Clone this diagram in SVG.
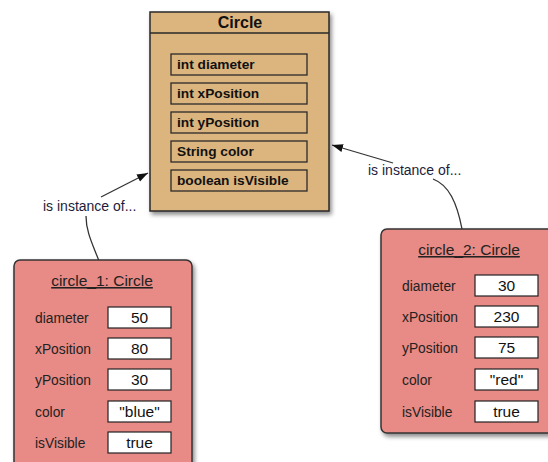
<svg xmlns="http://www.w3.org/2000/svg" width="548" height="462" viewBox="0 0 548 462">
<style>
.cls{fill:#dcb57e;stroke:#2a2a2a;stroke-width:1.5}
.fld{fill:#dcb57e;stroke:#2a2a2a;stroke-width:1.3}
.obj{fill:#e88a85;stroke:#333;stroke-width:1.5}
.val{fill:#fff;stroke:#222;stroke-width:1.2}
.ft{font-family:"Liberation Sans",Arial,sans-serif;font-size:13.7px;font-weight:bold;fill:#111}
.hd{font-family:"Liberation Sans",Arial,sans-serif;font-size:16px;font-weight:bold;fill:#111;text-anchor:middle}
.ttl{font-family:"Liberation Sans",Arial,sans-serif;font-size:15.5px;fill:#222;text-anchor:middle;text-decoration:underline}
.lb{font-family:"Liberation Sans",Arial,sans-serif;font-size:13.8px;fill:#222}
.vt{font-family:"Liberation Sans",Arial,sans-serif;font-size:15.5px;fill:#111;text-anchor:middle}
.cl{font-family:"Liberation Sans",Arial,sans-serif;font-size:14px;fill:#1c1c3a}
.con{fill:none;stroke:#333;stroke-width:1.3}
</style>
<defs>
<filter id="sh" x="-10%" y="-10%" width="130%" height="130%">
<feDropShadow dx="2" dy="3" stdDeviation="2" flood-color="#000" flood-opacity="0.45"/>
</filter>
<marker id="ah" markerWidth="12" markerHeight="10" refX="11" refY="4" orient="auto" markerUnits="userSpaceOnUse">
<path d="M0,0 L11,4 L0,8 Z" fill="#111"/>
</marker>
</defs>

<g id="connectors">
<path class="con" d="M99,261 C93,245 86,232 86,216"/>
<path class="con" d="M101,197 L148,173" marker-end="url(#ah)"/>
<path class="con" d="M462,229 C457,203 449,185 433,179"/>
<path class="con" d="M393,163 L332,145" marker-end="url(#ah)"/>
<text class="cl" x="43" y="211">is instance of...</text>
<text class="cl" x="368" y="175">is instance of...</text>
</g>

<g id="Circle">
<rect class="cls" x="150" y="12" width="179" height="199" filter="url(#sh)"/>
<line x1="150" y1="33" x2="329" y2="33" stroke="#2a2a2a" stroke-width="1.3"/>
<text class="hd" x="240" y="28">Circle</text>
<rect class="fld" x="171" y="54" width="136" height="21"/>
<text class="ft" x="177" y="69">int diameter</text>
<rect class="fld" x="171" y="83" width="136" height="21"/>
<text class="ft" x="177" y="98">int xPosition</text>
<rect class="fld" x="171" y="112" width="136" height="21"/>
<text class="ft" x="177" y="127">int yPosition</text>
<rect class="fld" x="171" y="141" width="136" height="21"/>
<text class="ft" x="177" y="156">String color</text>
<rect class="fld" x="171" y="170" width="136" height="21"/>
<text class="ft" x="177" y="185">boolean isVisible</text>
</g>

<g id="circle_1">
<rect class="obj" x="14" y="260" width="178" height="210" rx="6" filter="url(#sh)"/>
<text class="ttl" x="102" y="286">circle_1: Circle</text>
<text class="lb" x="35" y="323">diameter</text>
<rect class="val" x="108" y="307" width="63" height="21"/>
<text class="vt" x="139.5" y="323">50</text>
<text class="lb" x="35" y="354">xPosition</text>
<rect class="val" x="108" y="338" width="63" height="21"/>
<text class="vt" x="139.5" y="354">80</text>
<text class="lb" x="35" y="385">yPosition</text>
<rect class="val" x="108" y="369" width="63" height="21"/>
<text class="vt" x="139.5" y="385">30</text>
<text class="lb" x="35" y="417">color</text>
<rect class="val" x="108" y="401" width="63" height="21"/>
<text class="vt" x="139.5" y="417">"blue"</text>
<text class="lb" x="35" y="448">isVisible</text>
<rect class="val" x="108" y="432" width="63" height="21"/>
<text class="vt" x="139.5" y="448">true</text>
</g>

<g id="circle_2">
<rect class="obj" x="381" y="229" width="180" height="204" rx="6" filter="url(#sh)"/>
<text class="ttl" x="469" y="255">circle_2: Circle</text>
<text class="lb" x="402" y="291">diameter</text>
<rect class="val" x="475" y="275" width="63" height="21"/>
<text class="vt" x="506.5" y="291">30</text>
<text class="lb" x="402" y="322">xPosition</text>
<rect class="val" x="475" y="306" width="63" height="21"/>
<text class="vt" x="506.5" y="322">230</text>
<text class="lb" x="402" y="353">yPosition</text>
<rect class="val" x="475" y="337" width="63" height="21"/>
<text class="vt" x="506.5" y="353">75</text>
<text class="lb" x="402" y="385">color</text>
<rect class="val" x="475" y="369" width="63" height="21"/>
<text class="vt" x="506.5" y="385">"red"</text>
<text class="lb" x="402" y="417">isVisible</text>
<rect class="val" x="475" y="401" width="63" height="21"/>
<text class="vt" x="506.5" y="417">true</text>
</g>
</svg>
